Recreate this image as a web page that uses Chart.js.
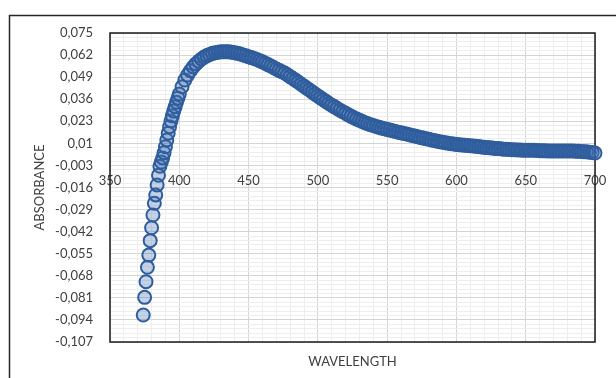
<!DOCTYPE html>
<html>
<head>
<meta charset="utf-8">
<script src="https://cdn.jsdelivr.net/npm/chart.js@4.4.1/dist/chart.umd.min.js"></script>
<style>
  html, body { margin: 0; padding: 0; background: #fff; }
  canvas { display: block; }
</style>
</head>
<body>
<canvas id="absChart" width="616" height="378"></canvas>
<script>
// wavelength (nm) and absorbance
const wavelength = [
  374, 375, 376, 377, 378, 379, 380, 381, 382, 383,
  384, 385, 386, 387, 388, 389, 390, 391, 392, 393,
  394, 395, 396, 397, 398, 399, 400, 402, 404, 406,
  408, 410, 412, 414, 416, 418, 420, 422, 424, 426,
  428, 430, 432, 434, 436, 438, 440, 442, 444, 446,
  448, 450, 452, 454, 456, 458, 460, 462, 464, 466,
  468, 470, 472, 474, 476, 478, 480, 482, 484, 486,
  488, 490, 492, 494, 496, 498, 500, 502, 504, 506,
  508, 510, 512, 514, 516, 518, 520, 522, 524, 526,
  528, 530, 532, 534, 536, 538, 540, 542, 544, 546,
  548, 550, 552, 554, 556, 558, 560, 562, 564, 566,
  568, 570, 572, 574, 576, 578, 580, 582, 584, 586,
  588, 590, 592, 594, 596, 598, 600, 602, 604, 606,
  608, 610, 612, 614, 616, 618, 620, 622, 624, 626,
  628, 630, 632, 634, 636, 638, 640, 642, 644, 646,
  648, 650, 652, 654, 656, 658, 660, 662, 664, 666,
  668, 670, 672, 674, 676, 678, 680, 682, 684, 686,
  688, 690, 692, 694, 696, 698, 700
];
const absorbance = [
  -0.0911, -0.0807, -0.0715, -0.0630, -0.0558, -0.0473, -0.0397, -0.0322, -0.0253, -0.0204,
  -0.0145, -0.0088, -0.0035, -0.0010, 0.0014, 0.0045, 0.0080, 0.0120, 0.0160, 0.0198,
  0.0232, 0.0262, 0.0290, 0.0316, 0.0342, 0.0366, 0.0390, 0.0433, 0.0473, 0.0502,
  0.0528, 0.0550, 0.0568, 0.0584, 0.0597, 0.0608, 0.0617, 0.0624, 0.0630, 0.0634,
  0.0637, 0.0639, 0.0640, 0.0640, 0.0639, 0.0637, 0.0634, 0.0630, 0.0626, 0.0621,
  0.0616, 0.0610, 0.0605, 0.0600, 0.0594, 0.0587, 0.0580, 0.0572, 0.0564, 0.0556,
  0.0547, 0.0538, 0.0530, 0.0522, 0.0514, 0.0504, 0.0493, 0.0482, 0.0471, 0.0460,
  0.0448, 0.0437, 0.0425, 0.0414, 0.0402, 0.0390, 0.0379, 0.0368, 0.0357, 0.0346,
  0.0335, 0.0325, 0.0315, 0.0305, 0.0295, 0.0286, 0.0277, 0.0268, 0.0259, 0.0251,
  0.0243, 0.0236, 0.0229, 0.0222, 0.0216, 0.0210, 0.0205, 0.0200, 0.0195, 0.0190,
  0.0186, 0.0182, 0.0178, 0.0174, 0.0170, 0.0166, 0.0162, 0.0158, 0.0155, 0.0151,
  0.0147, 0.0143, 0.0139, 0.0135, 0.0131, 0.0127, 0.0124, 0.0120, 0.0117, 0.0113,
  0.0110, 0.0107, 0.0104, 0.0101, 0.0098, 0.0096, 0.0094, 0.0092, 0.0090, 0.0089,
  0.0087, 0.0086, 0.0085, 0.0083, 0.0081, 0.0079, 0.0077, 0.0075, 0.0074, 0.0072,
  0.0070, 0.0069, 0.0068, 0.0066, 0.0065, 0.0064, 0.0063, 0.0062, 0.0061, 0.0061,
  0.0060, 0.0060, 0.0060, 0.0059, 0.0059, 0.0058, 0.0057, 0.0056, 0.0056, 0.0055,
  0.0055, 0.0055, 0.0055, 0.0055, 0.0055, 0.0055, 0.0055, 0.0055, 0.0055, 0.0054,
  0.0053, 0.0052, 0.0051, 0.0050, 0.0048, 0.0046, 0.0043
];
const xTicks = [350, 400, 450, 500, 550, 600, 650, 700];
const yTicks = [0.075, 0.062, 0.049, 0.036, 0.023, 0.01, -0.003, -0.016, -0.029, -0.042, -0.055, -0.068, -0.081, -0.094, -0.107];
const xTitle = 'WAVELENGTH';
const yTitle = 'ABSORBANCE';

const textColor = '#404040';
const majorGrid = '#d4d4d4';
const minorGrid = '#eeeeee';
const fmt = v => String(v).replace('.', ',');

// majors plus 4 minor lines between each pair
function withMinors(list) {
  const s = list.slice().sort((a, b) => a - b);
  const out = [];
  for (let i = 0; i < s.length; i++) {
    out.push({ value: s[i], m: true });
    if (i < s.length - 1) {
      for (let k = 1; k < 5; k++) out.push({ value: s[i] + (s[i + 1] - s[i]) * k / 5, m: false });
    }
  }
  return out;
}

const framePlugin = {
  id: 'frame',
  beforeDraw(chart) {
    const c = chart.ctx;
    c.save();
    c.strokeStyle = '#262626';
    c.lineWidth = 1.5;
    c.beginPath();
    c.moveTo(9.5, chart.height);
    c.lineTo(9.5, 15.5);
    c.lineTo(chart.width, 15.5);
    c.stroke();
    c.restore();
  },
  beforeDatasetsDraw(chart) {
    const a = chart.chartArea;
    const c = chart.ctx;
    c.save();
    c.strokeStyle = '#1a1a1a';
    c.lineWidth = 1.5;
    c.strokeRect(a.left, a.top, a.right - a.left, a.bottom - a.top);
    c.restore();
  }
};

const points = wavelength.map((w, i) => ({ x: w, y: absorbance[i] }));

new Chart(document.getElementById('absChart').getContext('2d'), {
  type: 'scatter',
  data: {
    datasets: [{
      data: points,
      pointStyle: 'circle',
      pointRadius: 6.5,
      pointBorderWidth: 2,
      borderColor: '#2f5d9c',
      backgroundColor: 'rgba(60,105,175,0.3)',
      clip: false
    }]
  },
  options: {
    responsive: false,
    animation: false,
    layout: { padding: { left: 10, top: 33, right: 21, bottom: 0 } },
    plugins: { legend: { display: false }, tooltip: { enabled: false } },
    scales: {
      x: {
        type: 'linear',
        min: 350,
        max: 700,
        afterBuildTicks: s => { s.ticks = withMinors(xTicks); },
        afterFit: s => { s.height = 36; },
        ticks: { display: false, autoSkip: false },
        grid: {
          drawTicks: false,
          color: c => (c.tick && c.tick.m ? majorGrid : minorGrid),
          lineWidth: 1
        },
        border: { display: false },
        title: {
          display: true,
          text: xTitle,
          color: textColor,
          font: { family: 'Lato', size: 13 },
          padding: { top: 0, bottom: 8 }
        }
      },
      xl: {
        type: 'linear',
        axis: 'x',
        position: { y: -0.003 },
        min: 350,
        max: 700,
        afterBuildTicks: s => { s.ticks = xTicks.map(v => ({ value: v })); },
        ticks: {
          autoSkip: false,
          maxRotation: 0,
          padding: 8,
          color: textColor,
          font: { family: 'Lato', size: 13 }
        },
        grid: { display: false, drawTicks: false },
        border: { display: false }
      },
      y: {
        type: 'linear',
        min: -0.107,
        max: 0.075,
        afterBuildTicks: s => { s.ticks = withMinors(yTicks); },
        afterFit: s => { s.width = 100; },
        ticks: {
          autoSkip: false,
          padding: 17,
          color: textColor,
          font: { family: 'Lato', size: 13 },
          callback: (v, i, t) => (t[i].m ? fmt(yTicks.find(y => Math.abs(y - v) < 1e-6)) : '')
        },
        grid: {
          drawTicks: false,
          color: c => (c.tick && c.tick.m ? majorGrid : minorGrid),
          lineWidth: 1
        },
        border: { display: false },
        title: {
          display: true,
          text: yTitle,
          color: textColor,
          font: { family: 'Lato', size: 13 },
          padding: { top: 22, bottom: 0 }
        }
      }
    }
  },
  plugins: [framePlugin]
});
</script>
</body>
</html>
